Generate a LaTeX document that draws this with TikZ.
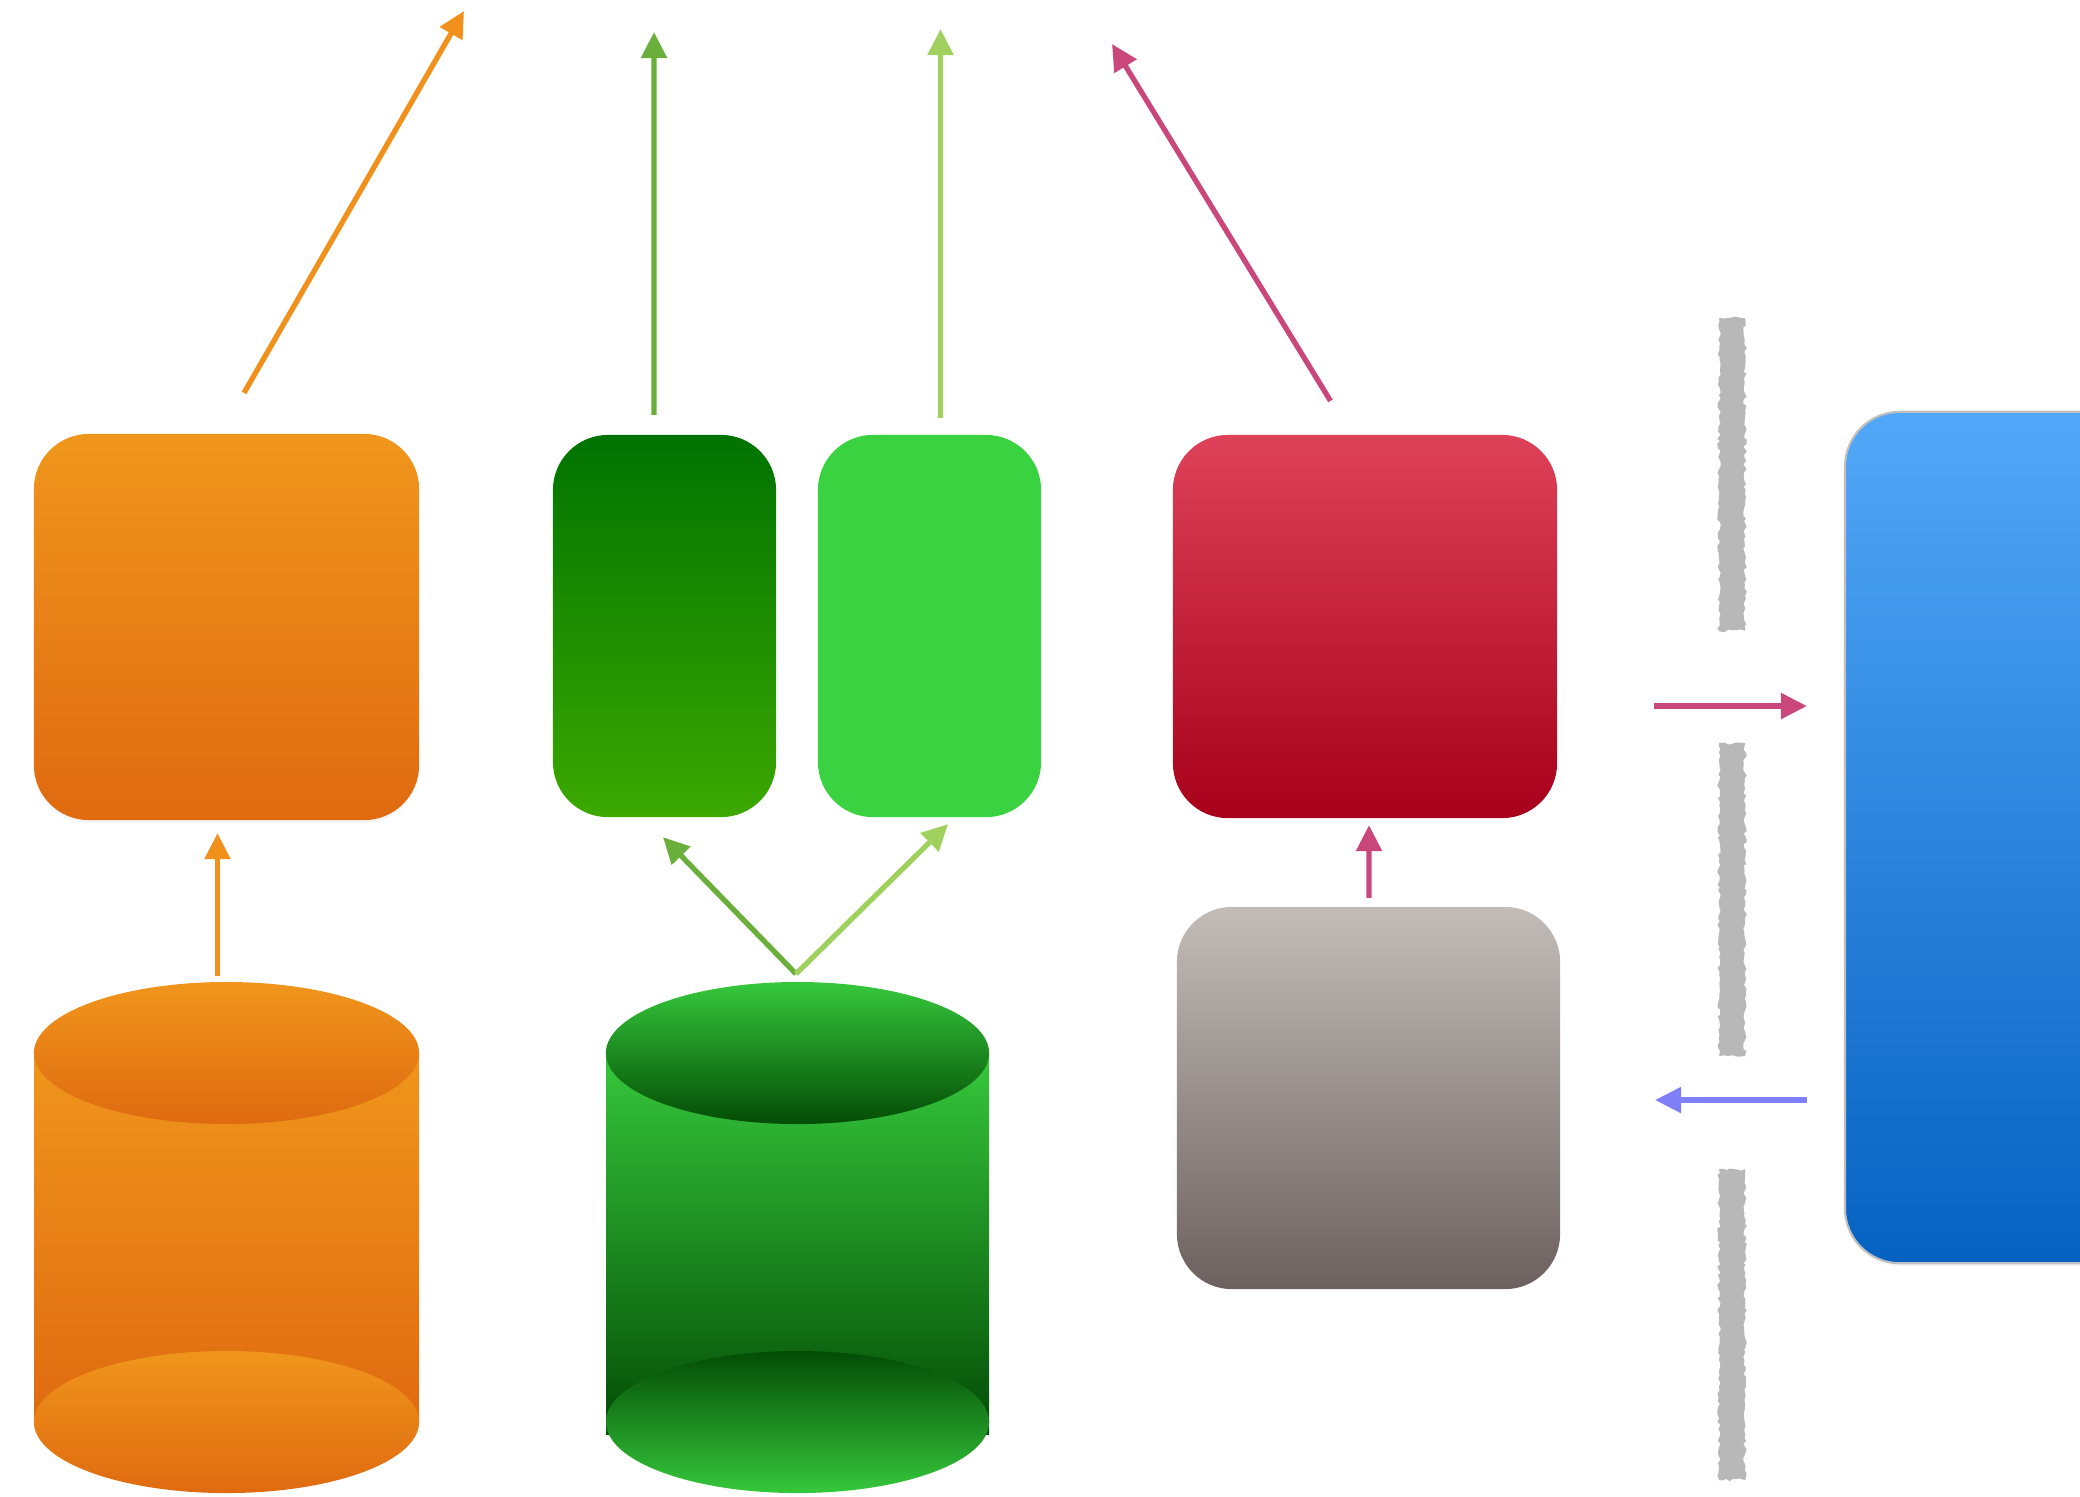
\documentclass[tikz,border=0pt]{standalone}
\usetikzlibrary{arrows.meta, shadows, decorations.pathmorphing}

\definecolor{orangetop}{HTML}{F0961C}
\definecolor{orangebot}{HTML}{DF6A10}
\definecolor{darktop}{HTML}{007300}
\definecolor{darkbot}{HTML}{3CA800}
\definecolor{lightfill}{HTML}{3AD240}
\definecolor{redtop}{HTML}{DE4258}
\definecolor{redbot}{HTML}{A7001B}
\definecolor{stonetop}{HTML}{C2BCB8}
\definecolor{stonebot}{HTML}{6D615F}
\definecolor{bluetop}{HTML}{52A8F8}
\definecolor{bluebot}{HTML}{0662C2}
\definecolor{cyltop}{HTML}{36C83C}
\definecolor{cylbot}{HTML}{034C05}
\definecolor{oline}{HTML}{F2901C}
\definecolor{gline}{HTML}{6AAF3C}
\definecolor{lline}{HTML}{A0D05E}
\definecolor{rline}{HTML}{C9477B}
\definecolor{bline}{HTML}{7F7FF8}
\definecolor{chalkgray}{HTML}{B8B8B8}

\begin{document}
\begin{tikzpicture}[x=0.01cm, y=-0.01cm]
  \tikzstyle{block}=[rectangle, rounded corners=5.5mm, inner sep=0pt, outer sep=0pt]
  \tikzstyle{orangeblock}=[top color=orangetop, bottom color=orangebot, drop shadow={opacity=0.08, shadow xshift=0pt, shadow yshift=-0.3mm}]
  \tikzstyle{darkblock}=[top color=darktop, bottom color=darkbot]
  \tikzstyle{redblock}=[top color=redtop, bottom color=redbot]
  \tikzstyle{stoneblock}=[top color=stonetop, bottom color=stonebot]
  \tikzstyle{blueblock}=[top color=bluetop, bottom color=bluebot, draw=black!25, line width=0.6pt, drop shadow={opacity=0.08, shadow xshift=0pt, shadow yshift=-0.3mm}]
  \tikzstyle{holder}=[rectangle, inner sep=0pt, outer sep=0pt]
  \tikzstyle{edge}=[-{Triangle[length=0.26cm, width=0.25cm]}, line width=1.5pt]
  \tikzstyle{chalk}=[fill=chalkgray, decorate, decoration={random steps, segment length=1pt, amplitude=0.5pt}]

  \useasboundingbox (0,0) rectangle (2080,1496);
  \clip (0,0) rectangle (2080,1496);

  % boxes
  \node[block, orangeblock, minimum width=3.85cm, minimum height=3.86cm] (obox) at (226.5, 627)  {};
  \node[block, darkblock,   minimum width=2.23cm, minimum height=3.82cm] (gbox) at (664.5, 626)  {};
  \node[block, fill=lightfill, minimum width=2.23cm, minimum height=3.82cm] (lbox) at (929.5, 626) {};
  \node[block, redblock,    minimum width=3.84cm, minimum height=3.83cm] (rbox) at (1365, 626.5) {};
  \node[block, stoneblock,  minimum width=3.83cm, minimum height=3.82cm] (sbox) at (1368.5, 1098) {};
  \node[block, blueblock,   minimum width=2.95cm, minimum height=8.51cm] (bbox) at (1992.5, 837.5) {};

  % cylinders
  \shade[top color=orangetop, bottom color=orangebot] (34,1053) rectangle (419,1422);
  \shade[top color=orangetop, bottom color=orangebot] (226.5,1422) ellipse [x radius=1.925cm, y radius=0.71cm];
  \shade[top color=orangetop, bottom color=orangebot] (226.5,1053) ellipse [x radius=1.925cm, y radius=0.71cm];
  \node[holder, minimum width=3.85cm, minimum height=5.11cm] (ocyl) at (226.5, 1237.5) {};

  \shade[top color=cyltop, bottom color=cylbot] (606,1053) rectangle (989,1434);
  \shade[top color=cylbot, bottom color=cyltop] (797.5,1422) ellipse [x radius=1.915cm, y radius=0.71cm];
  \shade[top color=cyltop, bottom color=cylbot] (797.5,1053) ellipse [x radius=1.915cm, y radius=0.71cm];
  \node[holder, minimum width=3.83cm, minimum height=5.11cm] (gcyl) at (797.5, 1237.5) {};

  % separators
  \pgfmathsetseed{7}
  \foreach \ya/\yb in {318/631, 743/1056, 1169/1480}
    \path[chalk] (1719,\ya) rectangle (1745,\yb);

  \coordinate (otip) at (464, 11);
  \coordinate (gtip) at (654, 32);
  \coordinate (ltip) at (940.5, 29);
  \coordinate (rtip) at (1112, 44);
  \coordinate (rin)  at (1654, 706);
  \coordinate (bout) at (1655, 1100);

  \path[edge, color=oline] ([xshift=1.75mm, yshift=4.1mm]obox.north) edge (otip);
  \path[edge, color=gline] ([xshift=-1.05mm, yshift=2mm]gbox.north) edge (gtip);
  \path[edge, color=lline] ([xshift=1.1mm, yshift=1.7mm]lbox.north) edge (ltip);
  \path[edge, color=rline] ([xshift=-3.45mm, yshift=3.4mm]rbox.north) edge (rtip);

  \path[edge, color=oline] ([xshift=-0.9mm, yshift=0.6mm]ocyl.north) edge ([xshift=-0.9mm, yshift=-1.3mm]obox.south);
  \path[edge, color=gline] ([xshift=-0.15mm, yshift=0.8mm]gcyl.north) edge ([xshift=-0.15mm, yshift=-2mm]gbox.south);
  \path[edge, color=lline] ([xshift=-0.15mm, yshift=0.8mm]gcyl.north) edge ([xshift=1.85mm, yshift=-0.7mm]lbox.south);
  \path[edge, color=rline] ([xshift=0.05mm, yshift=0.9mm]sbox.north) edge ([xshift=0.4mm, yshift=-0.7mm]rbox.south);

  \path[edge, color=rline, shorten >=3.8mm] (rin) edge (rin -| bbox.west);
  \path[edge, color=bline, shorten <=3.8mm] (bout -| bbox.west) edge (bout);
\end{tikzpicture}
\end{document}
